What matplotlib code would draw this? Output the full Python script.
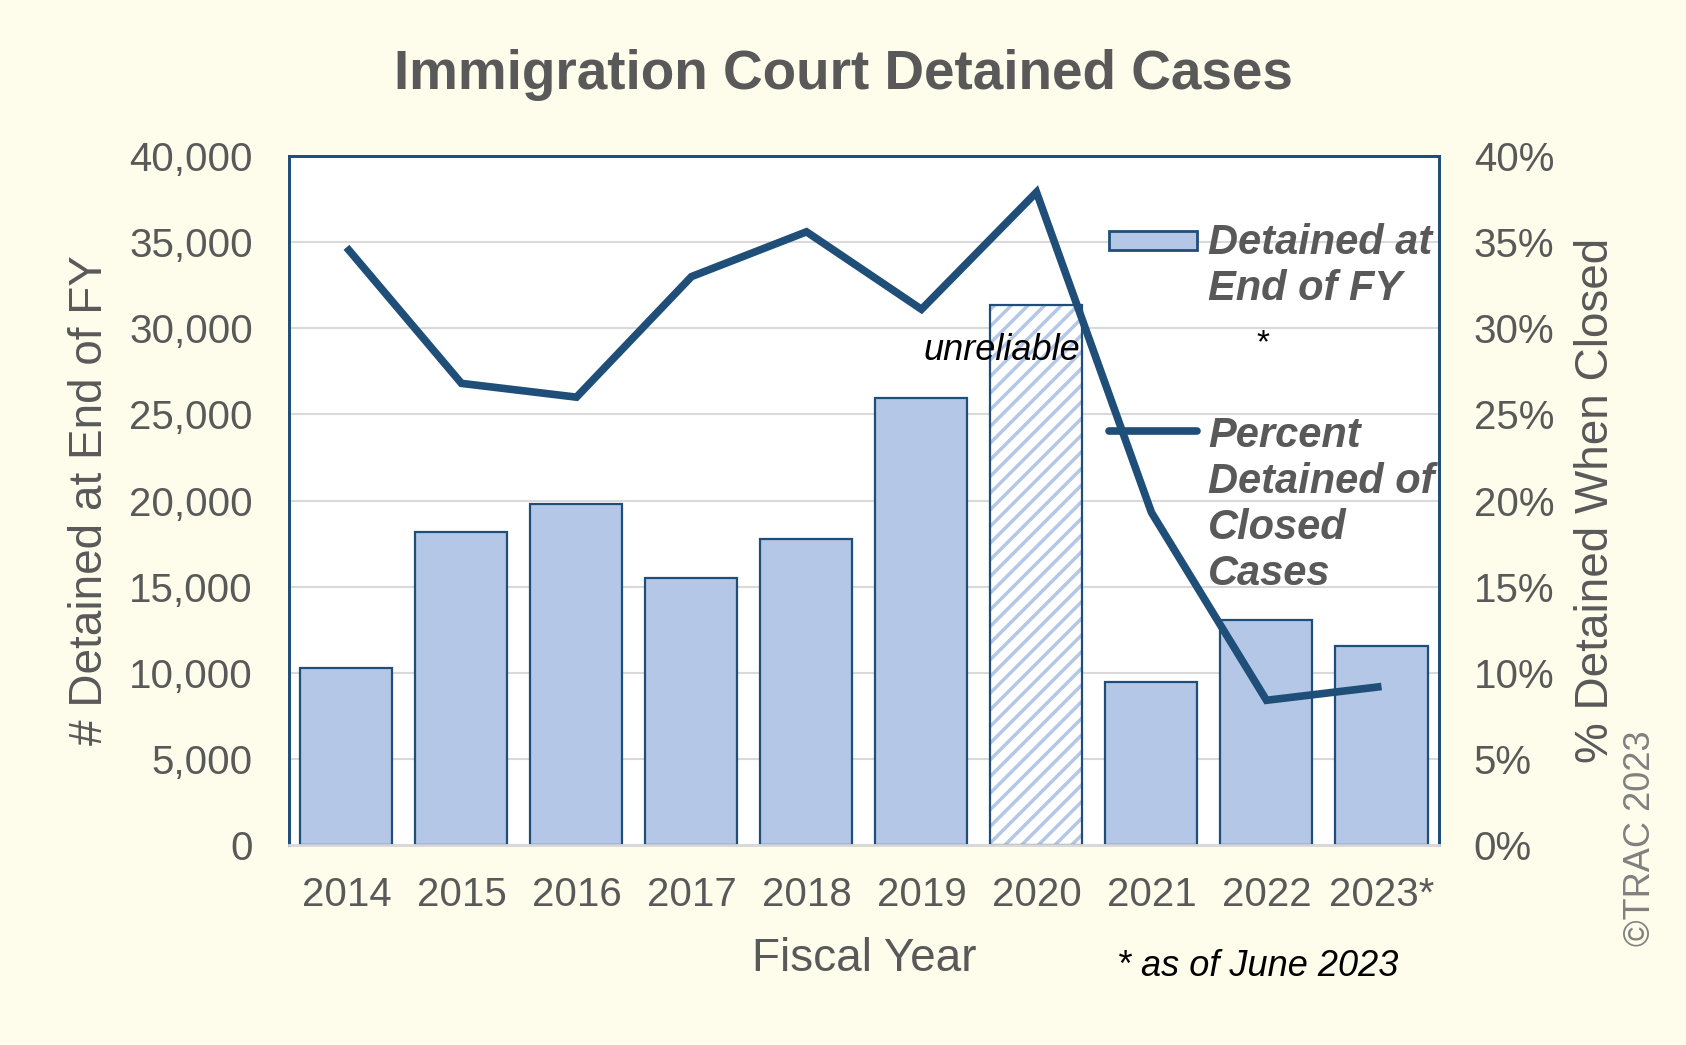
import matplotlib
matplotlib.use("Agg")
import matplotlib.pyplot as plt
from matplotlib.ticker import FuncFormatter, PercentFormatter
from matplotlib.patches import Rectangle
from matplotlib.lines import Line2D
import numpy as np

# data
years = ["2014", "2015", "2016", "2017", "2018", "2019", "2020", "2021", "2022", "2023*"]
detained_end_fy = [10250, 18150, 19780, 15480, 17780, 25960, 31330, 9490, 13040, 11540]
pct_detained_closed = [0.347, 0.268, 0.260, 0.330, 0.356, 0.311, 0.379, 0.193, 0.084, 0.092]
unreliable_year = "2020"

bg = "#FEFCEA"
dark_blue = "#1F4E79"
light_blue = "#B4C7E7"
gray_txt = "#595959"
grid_gray = "#D9D9D9"

plt.rcParams["font.family"] = ["Liberation Sans", "DejaVu Sans"]
plt.rcParams["hatch.linewidth"] = 2.5

fig = plt.figure(figsize=(16.86, 10.45), dpi=100, facecolor=bg)
ax = fig.add_axes([0.1714, 0.1914, 0.6821, 0.6593])
ax.set_facecolor("white")
ax2 = ax.twinx()

x = np.arange(len(years))
bad = np.array([y == unreliable_year for y in years])
vals = np.array(detained_end_fy)

# normal bars
ax.bar(x[~bad], vals[~bad], width=0.8, color=light_blue, edgecolor=dark_blue,
       linewidth=1.6, zorder=3)
# unreliable year: hatched, then outlined
ax.bar(x[bad], vals[bad], width=0.8, color="white", edgecolor=light_blue,
       hatch="//", linewidth=0, zorder=3)
ax.bar(x[bad], vals[bad], width=0.8, fill=False, edgecolor=dark_blue,
       linewidth=1.6, zorder=4)

ax2.plot(x, pct_detained_closed, color=dark_blue, linewidth=5.5,
         solid_joinstyle="miter", solid_capstyle="butt", zorder=5)

ax.set_xlim(-0.5, len(years) - 0.5)
ax.set_ylim(0, 40000)
ax.set_yticks(np.arange(0, 40001, 5000))
ax.yaxis.set_major_formatter(FuncFormatter(lambda v, p: f"{int(v):,}"))
ax2.set_ylim(0, 0.40)
ax2.set_yticks(np.arange(0, 0.401, 0.05))
ax2.yaxis.set_major_formatter(PercentFormatter(1.0, decimals=0))
ax.set_xticks(x)
ax.set_xticklabels(years)

ax.grid(axis="y", color=grid_gray, linewidth=1.5, zorder=0)
ax.set_axisbelow(True)

ax.tick_params(axis="x", length=0, pad=22, labelsize=29, labelcolor=gray_txt)
ax.tick_params(axis="y", length=0, pad=26, labelsize=29, labelcolor=gray_txt)
ax2.tick_params(axis="y", length=0, pad=25, labelsize=29, labelcolor=gray_txt)

for a in (ax, ax2):
    for s in ("left", "right", "top"):
        a.spines[s].set_color(dark_blue)
        a.spines[s].set_linewidth(2)
    a.spines["bottom"].set_color(grid_gray)
    a.spines["bottom"].set_linewidth(2)

ax.set_xlabel("Fiscal Year", fontsize=33, color=gray_txt, labelpad=17)
ax.set_ylabel("# Detained at End of FY", fontsize=33, color=gray_txt, labelpad=12)
ax2.set_ylabel("% Detained When Closed", fontsize=33, color=gray_txt, labelpad=14)

fig.suptitle("Immigration Court Detained Cases", fontsize=39.5, fontweight="bold",
             color=gray_txt, x=0.5, y=0.928, va="center")

# legend drawn by hand so it sits like the original
leg_font = dict(fontsize=30, fontweight="bold", style="italic", color=gray_txt,
                linespacing=1.2, transform=ax2.transAxes, zorder=10)
ax2.add_patch(Rectangle((0.713, 0.864), 0.0765, 0.0276, transform=ax2.transAxes,
                        facecolor=light_blue, edgecolor=dark_blue, linewidth=2,
                        zorder=10, clip_on=False))
ax2.text(0.799, 0.903, "Detained at\nEnd of FY", ha="left", va="top", **leg_font)
ax2.add_line(Line2D([0.713, 0.790], [0.601, 0.601], transform=ax2.transAxes,
                    color=dark_blue, linewidth=5.5, solid_capstyle="round",
                    zorder=10))
ax2.text(0.799, 0.623, "Percent\nDetained of\nClosed\nCases", ha="left",
         va="top", **leg_font)
ax2.text(0.847, 0.727, "*", ha="center", va="center", fontsize=24,
         color="black", transform=ax2.transAxes, zorder=10)

ax2.text(0.620, 0.718, "unreliable", ha="center", va="center", fontsize=26,
         style="italic", color="black", transform=ax2.transAxes, zorder=10)

fig.text(1258 / 1686, 1 - 966 / 1045, "* as of June 2023", ha="center",
         va="center", fontsize=26, style="italic", color="black")
fig.text(1640 / 1686, 1 - 838 / 1045, "\u00a9TRAC 2023", ha="center",
         va="center", rotation=90, fontsize=26, color="#808080")

fig.savefig("out.png", dpi=100, facecolor=bg)
